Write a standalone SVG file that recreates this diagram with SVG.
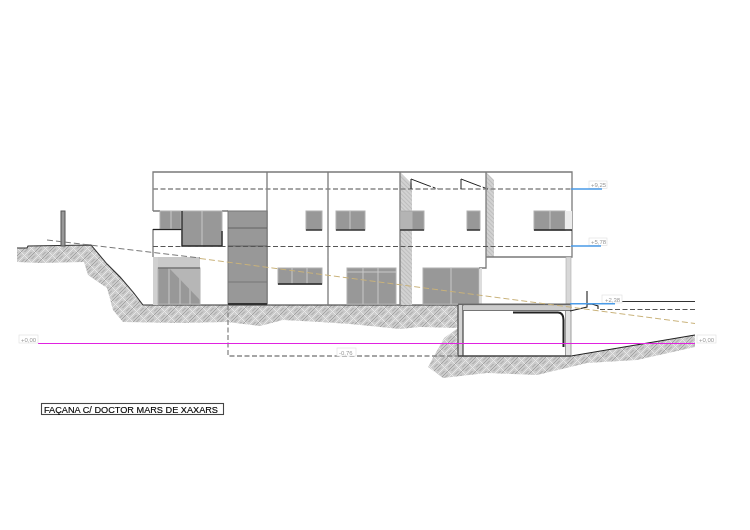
<svg xmlns="http://www.w3.org/2000/svg" width="750" height="530" viewBox="0 0 750 530">
<style>
.t{font-family:"Liberation Sans",Arial,sans-serif}
.lvl{font-size:6px;fill:#9a9a9a}
.lb{fill:#fff;stroke:#e2e2e2;stroke-width:.7}
.w{fill:#989898;stroke:#b0b0b0;stroke-width:1}
.s{stroke:#c8c8c8;stroke-width:1;fill:none}
.dk{stroke:#222;stroke-width:1.300;fill:none}
.m{stroke:#7a7a7a;stroke-width:1.300;fill:none}
.d{stroke:#555;stroke-width:1;stroke-dasharray:5 2.500;fill:none}
.d2{stroke:#888;stroke-width:1.300;stroke-dasharray:5 2.500;fill:none}
.o{stroke:#c9b27a;stroke-width:1;stroke-dasharray:6 3;fill:none}
.b{stroke:#4a9be8;stroke-width:1.400;fill:none}
</style>
<defs>
<filter id="soft" x="0" y="0" width="750" height="530" filterUnits="userSpaceOnUse"><feGaussianBlur stdDeviation="0.35"/></filter>
<pattern id="h" width="14" height="14" patternUnits="userSpaceOnUse">
<rect width="14" height="14" fill="#cccccc"/>
<path d="M0 7L7 0M3.500 7L7 3.500M0 3.500L3.500 0M7 14L14 7M10.500 14L14 10.500M7 10.500L10.500 7" stroke="#979797" stroke-width=".8" fill="none"/>
<path d="M7 7L14 0M7 0L14 7M0 7L7 14M0 14L7 7" stroke="#ececec" stroke-width=".8" fill="none"/>
</pattern>
<pattern id="g" width="3" height="3" patternUnits="userSpaceOnUse" patternTransform="rotate(45)">
<rect width="3" height="3" fill="#d2d2d2"/><path d="M0 0H3" stroke="#aaa" stroke-width="1"/>
</pattern>
</defs>
<rect width="750" height="530" fill="#fff"/>
<g filter="url(#soft)">
<g id="terrain">
<path fill="url(#h)" d="M17 248L27 248L28 246L91 245L107 264L120 277L133 292L143 305L458 305L458 328L444 338L428 367L443 378L487 373L537 375L587 363L637 360L695 347L695 335L572 356L458 356L458 328L420 327L400 329L350 324L320 322L283 320L260 326L227 322L180 323L123 322L113 310L107 288L88 275L84 262L40 263L17 262Z"/>
<path d="M17 248L27 248L28 246L91 245L107 264L120 277L133 292L143 305L458 305" stroke="#333" stroke-width="1.100" fill="none"/>
<path d="M571 356L695 335" stroke="#222" stroke-width="1.100" fill="none"/>
</g>
<g id="post"><rect x="61" y="211" width="4" height="35" fill="#999" stroke="#555" stroke-width="1"/></g>
<g id="building">
<path d="M400 172L412 184V305H400Z" fill="url(#g)"/>
<path d="M486 172L494 180V257H486Z" fill="url(#g)"/>
<path class="m" d="M153 211V172H572V257H486M153 211H160M222 211H228M153 229V257M267 172V305M328 172V305M400 172V305M486 172V268H479"/>
<rect x="153" y="257" width="5" height="48" fill="#d0d0d0"/>
<rect x="566" y="257" width="5" height="47" fill="#d8d8d8" stroke="#aaa" stroke-width=".6"/>
<rect x="480" y="268" width="2" height="36" fill="#ddd"/>
</g>
<g id="win-left-small"><rect class="w" x="160" y="211" width="21" height="18"/><path class="s" d="M171 211V229"/></g>
<path class="dk" d="M153 229.500H182" stroke-width="1.400"/>
<g id="win-left-large"><rect class="w" x="182" y="211" width="40" height="35"/><path class="s" d="M202 211V246"/><path class="dk" d="M182 211V246H222V231"/></g>
<g id="door-left"><path d="M158 257L200 257V268H158Z" fill="#c9c9c9"/><rect class="w" x="158" y="268" width="42" height="36"/><path class="s" d="M169 268V304M180 268V304M190 268V304"/><path d="M169 268L200 268V300Z" fill="#b6b6b6"/><path d="M158 268H200" stroke="#555"/></g>
<g id="panel"><rect x="228" y="211" width="39" height="94" fill="#989898" stroke="#777"/><path d="M228 228H267M228 246H267" stroke="#555" stroke-width=".8"/><path d="M228 282H267" stroke="#777" stroke-width="1.200"/><path d="M228 304H267" stroke="#333" stroke-width="2"/></g>
<g id="win-a"><rect class="w" x="278" y="268" width="44" height="16"/><path class="s" d="M292 268V284M307 268V284"/><path class="dk" d="M278 284H322"/></g>
<g id="win-b"><rect class="w" x="306" y="211" width="16" height="19"/><path class="dk" d="M306 230H322"/></g>
<g id="win-c"><rect class="w" x="336" y="211" width="29" height="19"/><path class="s" d="M350 211V230"/><path class="dk" d="M336 230H365"/></g>
<g id="door-c"><rect class="w" x="347" y="268" width="49" height="36"/><path class="s" d="M363 268V304M378 268V304M347 272H396"/></g>
<g id="win-d"><rect class="w" x="400" y="211" width="24" height="19"/><rect x="400.500" y="211.500" width="12" height="18" fill="#b4b4b4"/><path class="dk" d="M400 230H424"/></g>
<g id="win-e"><rect class="w" x="467" y="211" width="13" height="19"/><path class="dk" d="M467 230H480"/></g>
<g id="door-d"><rect class="w" x="423" y="268" width="56" height="36"/><path class="s" d="M451 268V304"/></g>
<g id="win-f"><rect class="w" x="534" y="211" width="31" height="19"/><rect x="565" y="211" width="7" height="19" fill="#ececec"/><path class="s" d="M550 211V230"/><path class="dk" d="M534 230H572"/></g>
<g id="basement">
<rect x="458" y="305" width="113" height="51" fill="#fff"/>
<path d="M458 304.500H571" stroke="#666" stroke-width="1.800"/>
<rect x="458" y="305" width="5" height="51" fill="#d4d4d4"/>
<path d="M458 305V356M463 305V356" stroke="#444" stroke-width="1.200"/>
<rect x="463" y="305.500" width="108" height="5" fill="#ccc"/>
<path d="M463 310.500H571" stroke="#666" stroke-width=".9"/>
<rect x="565" y="311" width="6" height="45" fill="#e2e2e2"/>
<path d="M571 304V356M565.500 311V356" stroke="#888" stroke-width=".8"/>
<path d="M513 312.500H558Q563.500 312.500 563.500 320V347" stroke="#222" stroke-width="2" fill="none"/>
<path d="M458 356H571" stroke="#444" stroke-width="1.300"/>
<path d="M570 311L587 307V291M587 304H592L598 306V309" stroke="#222" stroke-width="1.100" fill="none"/>
</g>
<g id="connectors">
<path class="d2" d="M153 189H571"/>
<path class="d" d="M153 246.500H571"/>
<path d="M47 240L200 258" stroke="#777" stroke-dasharray="6 3" fill="none"/>
<path class="o" d="M200 258.500L695 323.500"/>
<path class="d2" d="M228 305V356H458"/>
<path class="d" d="M600 309.500H695"/>
<path d="M411 189V179L428 185.500" stroke="#222" fill="none"/><path d="M428 185.500L438 189" stroke="#222" stroke-dasharray="3 2" fill="none"/>
<path d="M461 189V179L478 185.500" stroke="#222" fill="none"/><path d="M478 185.500L488 189" stroke="#222" stroke-dasharray="3 2" fill="none"/>
<path d="M622 301.500H695" stroke="#333" fill="none"/>
<path d="M38 343.500H695" stroke="#e020e0" stroke-width="1.100"/>
</g>
<g id="levels">
<rect class="lb" x="589" y="181" width="18" height="7.500"/><text class="t lvl" x="591" y="187">+9,25</text>
<rect class="lb" x="589" y="238" width="18" height="7.500"/><text class="t lvl" x="591" y="244">+5,78</text>
<rect class="lb" x="602" y="295" width="20" height="8"/><text class="t lvl" x="605" y="301.500">+2,38</text>
<rect class="lb" x="19" y="335" width="19" height="8"/><text class="t lvl" x="21" y="341.500">+0,00</text>
<rect class="lb" x="697" y="335" width="19" height="8"/><text class="t lvl" x="699" y="341.500">+0,00</text>
<rect class="lb" x="337" y="348" width="19" height="8"/><text class="t lvl" x="339" y="354.500">-0,76</text>
<path class="b" d="M571 189H602M571 246H601M570 303.700H615"/>
</g>
<g id="title"><rect x="41.500" y="403.500" width="182" height="11" fill="#fff" stroke="#444" stroke-width="1.100"/><text class="t" x="44" y="412.500" font-size="9.500" fill="#000" stroke="#000" stroke-width=".15" textLength="174" lengthAdjust="spacingAndGlyphs">FAÇANA C/ DOCTOR MARS DE XAXARS</text></g>
</g>
</svg>
